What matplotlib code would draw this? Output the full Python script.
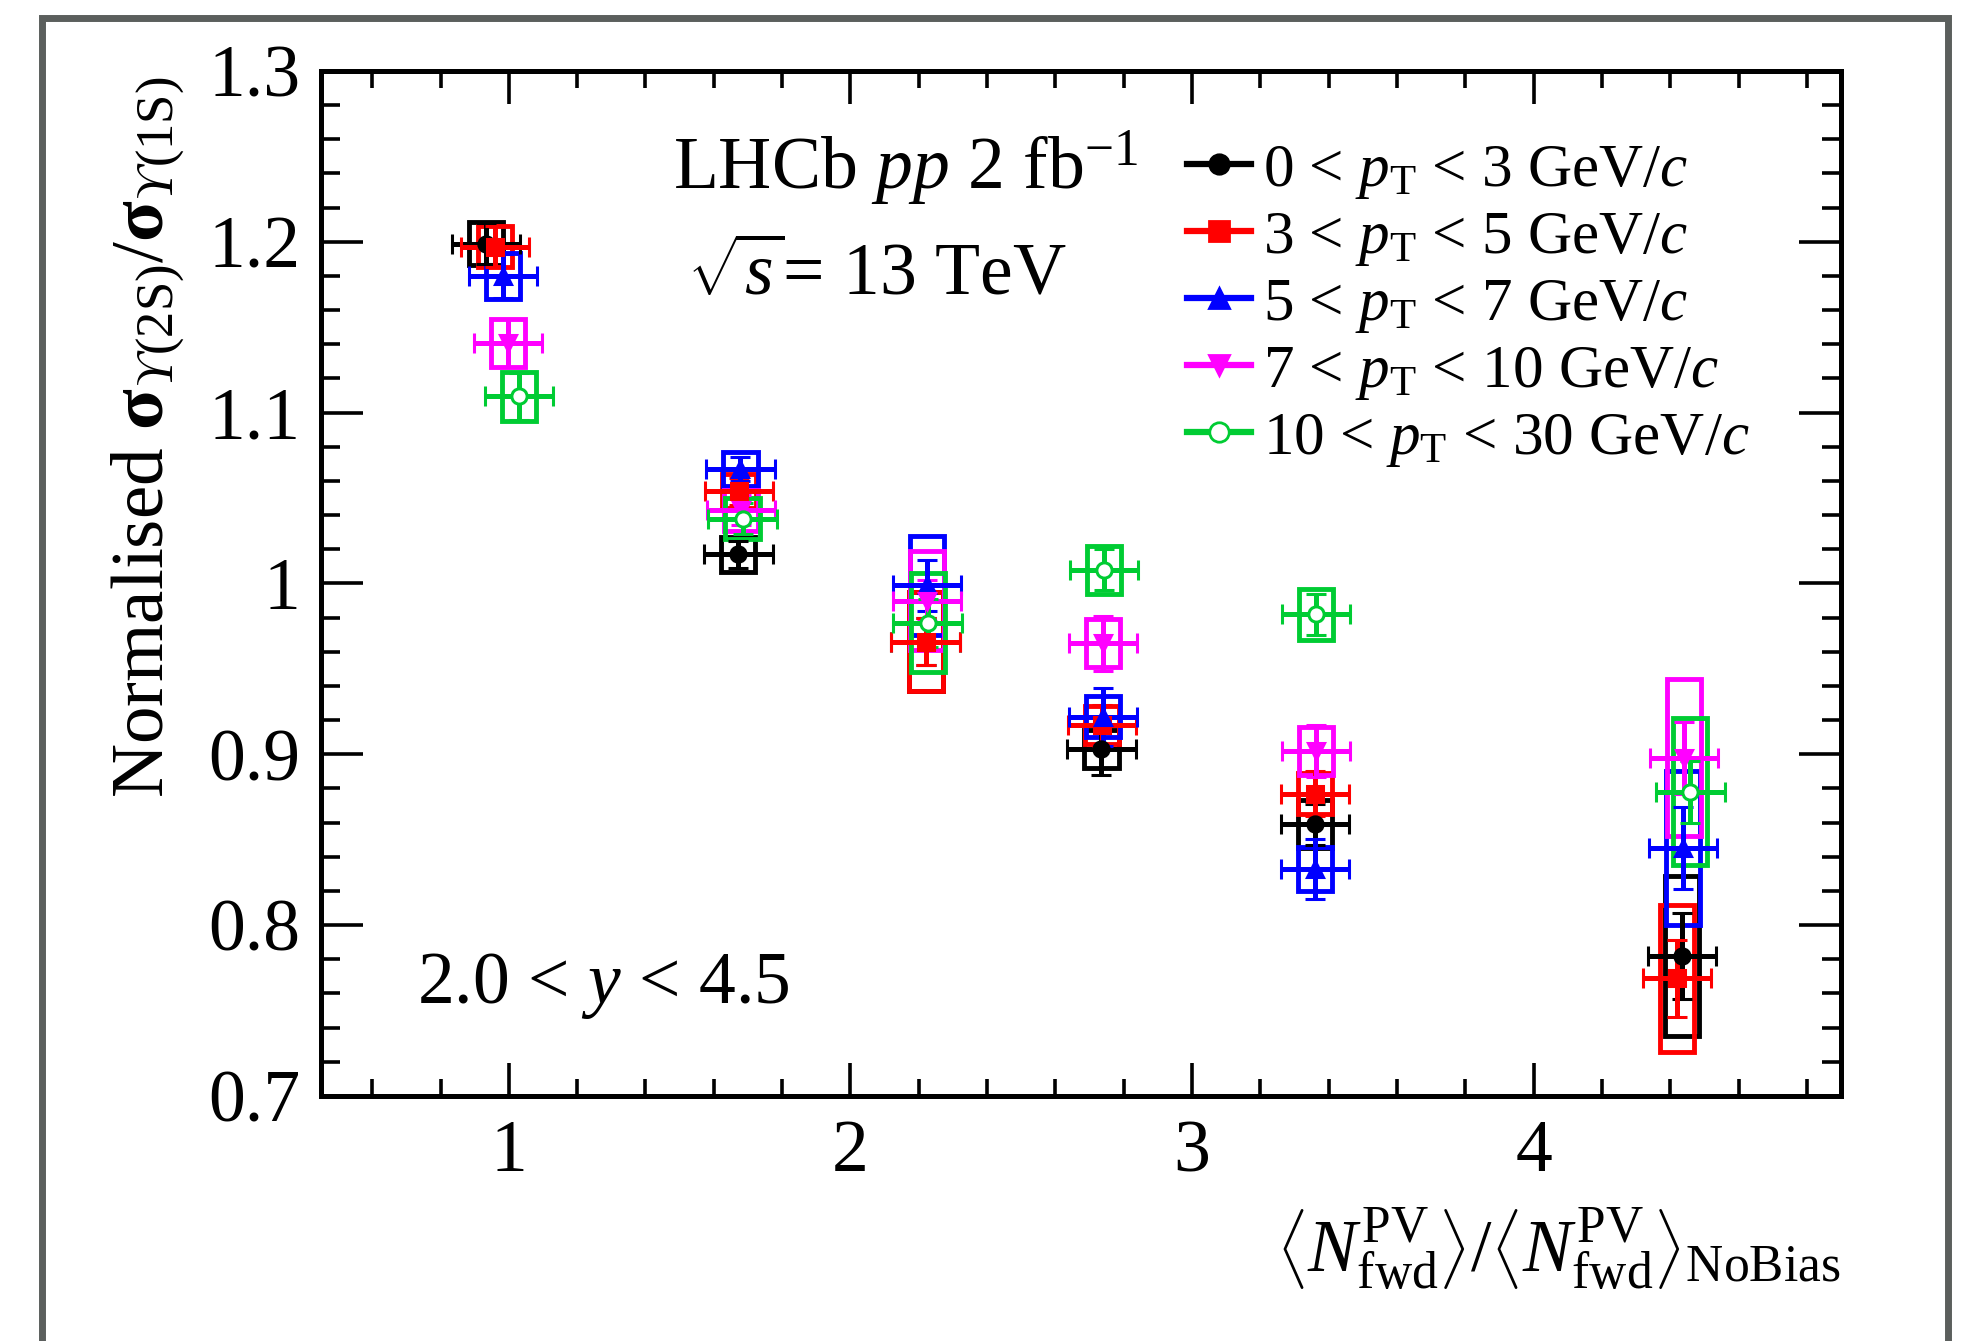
import numpy as np
import matplotlib
matplotlib.use("Agg")
from matplotlib import pyplot as plt
from matplotlib.patches import Rectangle
from matplotlib.lines import Line2D
from matplotlib.ticker import MultipleLocator

plt.rcParams['font.family'] = ['Liberation Serif', 'DejaVu Serif']
plt.rcParams['mathtext.fontset'] = 'custom'
plt.rcParams['mathtext.rm'] = 'Liberation Serif'
plt.rcParams['mathtext.it'] = 'Liberation Serif:italic'
plt.rcParams['mathtext.bf'] = 'Liberation Serif:bold'

# pT bins
labels = [r'0 < $p_{\mathrm{T}}$ < 3 GeV/$c$',
          r'3 < $p_{\mathrm{T}}$ < 5 GeV/$c$',
          r'5 < $p_{\mathrm{T}}$ < 7 GeV/$c$',
          r'7 < $p_{\mathrm{T}}$ < 10 GeV/$c$',
          r'10 < $p_{\mathrm{T}}$ < 30 GeV/$c$']
colors = ['#000000', '#ff0000', '#0000ff', '#ff00ff', '#00cc33']
markers = ['o', 's', '^', 'v', 'o']

# <N_PV> / <N_PV>_NoBias  (x), ratio (y), stat err, syst err
x_pt0 = [0.933, 1.672, 2.220, 2.735, 3.360, 4.434]
y_pt0 = [1.199, 1.017, 0.966, 0.903, 0.859, 0.782]
stat_pt0 = [0.012, 0.008, 0.014, 0.015, 0.012, 0.025]
syst_pt0 = [0.0125, 0.010, 0.029, 0.011, 0.014, 0.047]

x_pt1 = [0.960, 1.674, 2.220, 2.737, 3.360, 4.420]
y_pt1 = [1.197, 1.054, 0.966, 0.917, 0.877, 0.769]
stat_pt1 = [0.012, 0.008, 0.014, 0.012, 0.013, 0.0225]
syst_pt1 = [0.012, 0.010, 0.029, 0.011, 0.012, 0.043]

x_pt2 = [0.982, 1.678, 2.224, 2.740, 3.360, 4.437]
y_pt2 = [1.180, 1.067, 0.999, 0.922, 0.833, 0.845]
stat_pt2 = [0.013, 0.007, 0.015, 0.017, 0.0175, 0.024]
syst_pt2 = [0.0135, 0.010, 0.029, 0.012, 0.013, 0.045]

x_pt3 = [0.997, 1.680, 2.224, 2.740, 3.362, 4.440]
y_pt3 = [1.141, 1.043, 0.990, 0.965, 0.902, 0.898]
stat_pt3 = [0.014, 0.009, 0.012, 0.016, 0.015, 0.021]
syst_pt3 = [0.014, 0.012, 0.029, 0.014, 0.014, 0.046]

x_pt4 = [1.030, 1.684, 2.226, 2.742, 3.362, 4.459]
y_pt4 = [1.1095, 1.038, 0.977, 1.008, 0.982, 0.878]
stat_pt4 = [0.014, 0.009, 0.014, 0.012, 0.012, 0.018]
syst_pt4 = [0.0145, 0.012, 0.029, 0.014, 0.015, 0.043]

x_err = 0.10      # horizontal error bar
box_half = 0.05   # half width of systematic box

series = [
    (x_pt0, y_pt0, stat_pt0, syst_pt0),
    (x_pt1, y_pt1, stat_pt1, syst_pt1),
    (x_pt2, y_pt2, stat_pt2, syst_pt2),
    (x_pt3, y_pt3, stat_pt3, syst_pt3),
    (x_pt4, y_pt4, stat_pt4, syst_pt4),
]

W, H = 1961, 1341
fig = plt.figure(figsize=(W / 100, H / 100), dpi=100)
fig.patch.set_facecolor('white')

# gray outer frame (open at the bottom)
fig.add_artist(Rectangle((41.5 / W, -0.05), (1947.5 - 41.5) / W, 1.05 - 18.5 / H,
                         transform=fig.transFigure, fill=False,
                         ec='#5b5f5d', lw=5, zorder=0))

ax = fig.add_axes([321 / W, (H - 1096) / H, 1520 / W, 1025 / H])
ax.set_xlim(0.45, 4.9)
ax.set_ylim(0.7, 1.3)

for (xs, ys, st, sy), c, m in zip(series, colors, markers):
    for xi, yi, si in zip(xs, ys, sy):
        ax.add_patch(Rectangle((xi - box_half, yi - si), 2 * box_half, 2 * si,
                               fill=False, ec=c, lw=3.5, zorder=2))
    mfc = 'white' if c == '#00cc33' else c
    ax.errorbar(xs, ys, xerr=x_err, yerr=st, fmt=m, color=c, mfc=mfc, mec=c,
                mew=2.2, ms=11, elinewidth=3.6, capsize=7, capthick=4, zorder=3)

ax.xaxis.set_major_locator(MultipleLocator(1))
ax.xaxis.set_minor_locator(MultipleLocator(0.2))
ax.yaxis.set_major_locator(MultipleLocator(0.1))
ax.yaxis.set_minor_locator(MultipleLocator(0.02))
ax.set_xticks([1, 2, 3, 4])
ax.set_yticks([0.7, 0.8, 0.9, 1.0, 1.1, 1.2, 1.3])
ax.set_yticklabels(['0.7', '0.8', '0.9', '1', '1.1', '1.2', '1.3'])

ax.tick_params(which='both', direction='in', top=True, right=True,
               labelsize=53, width=2.6, color='black')
ax.tick_params(axis='x', which='major', length=24, pad=17)
ax.tick_params(axis='x', which='minor', length=12)
ax.tick_params(axis='y', which='major', length=30, pad=15)
ax.tick_params(axis='y', which='minor', length=14)
for s in ax.spines.values():
    s.set_linewidth(3.6)

ax.set_ylabel(r'Normalised $\mathbf{\sigma}_{\mathit{ϒ}\mathrm{(2S)}}/'
              r'\mathbf{\sigma}_{\mathit{ϒ}\mathrm{(1S)}}$',
              fontsize=54, loc='top')
ax.yaxis.set_label_coords(-0.088, 0.995)
ax.set_xlabel(r'$\left\langle N^{\mathrm{PV}}_{\mathrm{fwd}}\right\rangle/'
              r'\left\langle N^{\mathrm{PV}}_{\mathrm{fwd}}\right\rangle_{\mathrm{NoBias}}$',
              fontsize=53, loc='right')
ax.xaxis.set_label_coords(1.0, -0.107)

ax.text(0.2316, 0.885, r'LHCb $pp$ 2 fb$^{-1}$', transform=ax.transAxes,
        fontsize=53, va='baseline', ha='left')
ax.text(0.2408, 0.7815, r'$\sqrt{s}$= 13 TeV', transform=ax.transAxes,
        fontsize=53, va='baseline', ha='left')
ax.text(0.0632, 0.0907, r'2.0 < $y$ < 4.5', transform=ax.transAxes,
        fontsize=53, va='baseline', ha='left')

handles = []
for c, m in zip(colors, markers):
    mfc = 'white' if c == '#00cc33' else c
    handles.append(Line2D([], [], color=c, lw=4.5, marker=m, ms=14,
                          mfc=mfc, mec=c, mew=2))
ax.legend(handles, labels, loc='upper left', bbox_to_anchor=(0.5697, 0.9297),
          frameon=False, fontsize=44, handlelength=1.05, handletextpad=0.2,
          borderpad=0, borderaxespad=0, labelspacing=0.15)

fig.savefig('out.png', dpi=100)
